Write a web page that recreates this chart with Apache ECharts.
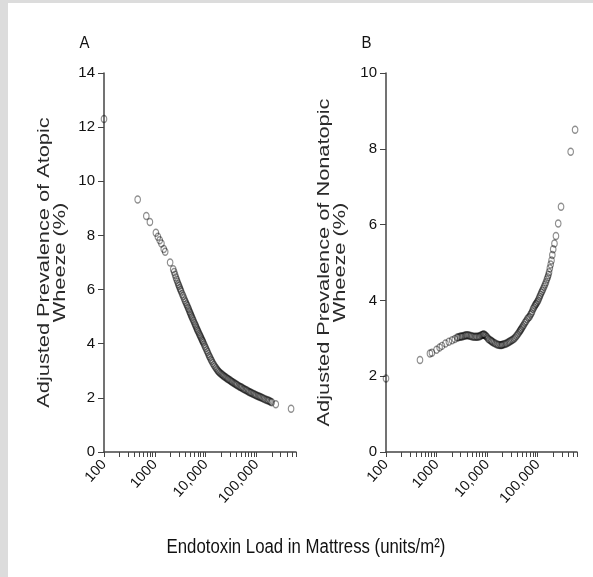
<!DOCTYPE html>
<html>
<head>
<meta charset="utf-8">
<script src="https://cdn.jsdelivr.net/npm/echarts@6/dist/echarts.min.js"></script>
<style>
  html, body { margin: 0; padding: 0; background: #fff; }
  #chart { width: 593px; height: 577px; }
</style>
</head>
<body>
<div id="chart"></div>
<script>
// endotoxin load (units/m2) vs adjusted prevalence (%), one circle per subject
var atopicX = [100, 460, 680, 800, 1050, 1150, 1250, 1350, 1500, 1600, 2000,
  2300, 2400, 2500, 2600, 2700, 2800, 2900, 3000, 3100, 3200, 3300, 3450, 3600, 3750, 3900, 4050, 4200, 4350, 4500, 4650, 4800, 4950, 5100, 5250, 5400, 5600, 5800, 6000, 6200, 6400, 6600, 6800, 7000, 7250, 7500, 7750, 8000, 8250, 8500, 8750, 9000, 9350, 9700,
  10100, 10500, 10900, 11300, 11750, 12200, 12700, 13200, 13800, 14500, 15200, 16000, 16700, 17500, 18200, 19000, 20000, 21000, 22000, 23000, 24200, 25500, 26700, 28000, 29500, 31000, 32500, 34000, 36000, 38000, 40000, 42000, 44500, 47000, 49500, 52000, 55000, 58000, 61500, 65000, 68500, 72000, 76000, 80000, 85000, 90000, 95000,
  100000, 106000, 112000, 118000, 125000, 132000, 140000, 150000, 160000, 170000, 180000, 190000, 200000, 240000, 480000];
var atopicY = [12.3, 9.33, 8.72, 8.5, 8.1, 7.95, 7.82, 7.7, 7.5, 7.4, 7.0,
  6.75, 6.65, 6.55, 6.45, 6.36, 6.28, 6.2, 6.13, 6.06, 5.99, 5.93, 5.84, 5.76, 5.68, 5.6, 5.53, 5.46, 5.4, 5.33, 5.27, 5.2, 5.14, 5.08, 5.02, 4.97, 4.9, 4.84, 4.77, 4.71, 4.65, 4.59, 4.53, 4.48, 4.42, 4.36, 4.3, 4.25, 4.19, 4.14, 4.09, 4.04, 3.97, 3.9,
  3.83, 3.76, 3.69, 3.62, 3.55, 3.49, 3.42, 3.36, 3.29, 3.22, 3.16, 3.1, 3.05, 3.0, 2.96, 2.93, 2.89, 2.86, 2.83, 2.8, 2.77, 2.74, 2.71, 2.69, 2.66, 2.63, 2.6, 2.58, 2.55, 2.52, 2.49, 2.47, 2.44, 2.41, 2.39, 2.37, 2.34, 2.32, 2.29, 2.27, 2.24, 2.22, 2.2, 2.18, 2.15, 2.13, 2.11,
  2.09, 2.07, 2.05, 2.03, 2.01, 1.99, 1.97, 1.94, 1.92, 1.9, 1.88, 1.86, 1.84, 1.76, 1.6];

var nonatopicX = [100, 470, 740, 810, 1000, 1150, 1280, 1500, 1750, 2030, 2300,
  2560, 2700, 2900, 3050, 3200, 3400, 3600, 3800, 4000, 4250, 4500, 4800, 5100, 5450, 5800, 6150, 6500, 6900, 7300, 7700, 8100, 8400, 8700, 9100, 9500,
  10000, 10500, 11100, 11800, 12300, 12800, 13600, 14500, 15500, 16500, 17500, 18500, 19300, 20000, 21200, 22500, 24000, 25500, 27000, 28500, 30200, 32000, 34000, 36000, 38000, 40000, 42000, 44000, 45500, 47000, 49000, 51000, 53500, 56000, 59000, 62000, 65500, 69000, 72000, 75000, 78000, 81000, 84500, 88000, 91000, 94000, 98000,
  102000, 106000, 110000, 114000, 118000, 123000, 128000, 134000, 140000, 146000, 152000, 158000, 163000, 168000, 174000, 181000, 188000, 195000, 203000, 215000, 230000, 255000, 290000, 450000, 550000];
var nonatopicY = [1.94, 2.43, 2.6, 2.62, 2.7, 2.76, 2.8, 2.86, 2.91, 2.95, 2.98,
  3.02, 3.03, 3.04, 3.05, 3.05, 3.06, 3.07, 3.08, 3.08, 3.08, 3.07, 3.06, 3.05, 3.04, 3.04, 3.04, 3.04, 3.05, 3.06, 3.08, 3.09, 3.1, 3.1, 3.08, 3.06,
  3.03, 2.99, 2.96, 2.94, 2.92, 2.9, 2.88, 2.86, 2.84, 2.83, 2.82, 2.82, 2.82, 2.83, 2.84, 2.85, 2.86, 2.88, 2.9, 2.92, 2.94, 2.96, 2.99, 3.02, 3.06, 3.1, 3.14, 3.18, 3.21, 3.24, 3.28, 3.32, 3.36, 3.41, 3.45, 3.5, 3.54, 3.57, 3.62, 3.66, 3.71, 3.77, 3.81, 3.86, 3.89, 3.92, 3.96,
  4.0, 4.05, 4.1, 4.15, 4.2, 4.25, 4.3, 4.36, 4.42, 4.48, 4.55, 4.61, 4.67, 4.74, 4.85, 4.95, 5.05, 5.2, 5.35, 5.5, 5.7, 6.03, 6.47, 7.92, 8.5];

var xLabelValues = [100, 1000, 10000, 100000];
var xLabelText = ['100', '1000', '10,000', '100,000'];
var xTickValues = [100, 200, 300, 400, 500, 600, 700, 800, 900,
  1000, 2000, 3000, 4000, 5000, 6000, 7000, 8000, 9000,
  10000, 20000, 30000, 40000, 50000, 60000, 70000, 80000, 90000,
  100000, 200000, 300000, 400000, 500000, 600000];

var axisColor = '#444';
var textColor = '#111';
var font = 'Liberation Sans';
// the original figure is stretched vertically, so free text gets a scale too
var stretch = 1.28;

function pairs(xs, ys) {
  return xs.map(function (x, i) { return [x, ys[i]]; });
}

function makeX(idx) {
  return {
    type: 'log', logBase: 10, gridIndex: idx, min: 100, max: 600000,
    axisLine: { show: true, lineStyle: { color: axisColor, width: 1.5 } },
    axisTick: { show: true, customValues: xTickValues, length: 5, lineStyle: { color: axisColor, width: 1 } },
    axisLabel: {
      customValues: xLabelValues, rotate: 48, margin: 10,
      fontFamily: font, fontSize: 14.5, color: textColor,
      formatter: function (v) { return xLabelText[Math.round(Math.log10(v)) - 2]; }
    },
    splitLine: { show: false }
  };
}

function makeY(idx, max) {
  return {
    type: 'value', gridIndex: idx, min: 0, max: max, interval: 2,
    axisLine: { show: true, lineStyle: { color: axisColor, width: 1.5 } },
    axisTick: { show: true, length: 6, lineStyle: { color: axisColor, width: 1 } },
    axisLabel: { fontFamily: font, fontSize: 15, color: textColor, margin: 9 },
    splitLine: { show: false }
  };
}

function makeSeries(idx, data) {
  return {
    type: 'scatter', xAxisIndex: idx, yAxisIndex: idx,
    data: data, symbol: 'circle', symbolSize: [5.5, 7],
    itemStyle: { color: 'rgba(0,0,0,0)', borderColor: 'rgba(0,0,0,0.55)', borderWidth: 1.3 },
    emphasis: { disabled: true }
  };
}

function sideText(text, x) {
  return {
    type: 'text', x: x, y: 262.5, rotation: Math.PI / 2, scaleX: stretch,
    style: { text: text, align: 'center', verticalAlign: 'middle', fontFamily: font, fontSize: 17, lineHeight: 16, fill: '#2a2a2a' }
  };
}

var myChart = echarts.init(document.getElementById('chart'));
var option = {
  backgroundColor: '#fff',
  animation: false,
  graphic: [
    { type: 'rect', left: 0, top: 0, shape: { width: 8, height: 577 }, style: { fill: '#dcdcdc' } },
    { type: 'rect', left: 0, top: 0, shape: { width: 593, height: 3 }, style: { fill: '#dcdcdc' } },
    { type: 'text', x: 84.5, y: 43, scaleY: 1.1, style: { text: 'A', align: 'center', verticalAlign: 'middle', fontFamily: font, fontSize: 15, fill: textColor } },
    { type: 'text', x: 366.5, y: 43, scaleY: 1.1, style: { text: 'B', align: 'center', verticalAlign: 'middle', fontFamily: font, fontSize: 15, fill: textColor } },
    { type: 'text', x: 306, y: 547, scaleY: 1.2, style: { text: 'Endotoxin Load in Mattress (units/m²)', align: 'center', verticalAlign: 'middle', fontFamily: font, fontSize: 16.8, fill: textColor } },
    sideText('Adjusted Prevalence of Atopic\nWheeze (%)', 52.5),
    sideText('Adjusted Prevalence of Nonatopic\nWheeze (%)', 332.5)
  ],
  grid: [
    { left: 104, top: 73, width: 192, height: 379 },
    { left: 386, top: 73, width: 191, height: 379 }
  ],
  xAxis: [makeX(0), makeX(1)],
  yAxis: [makeY(0, 14), makeY(1, 10)],
  series: [
    makeSeries(0, pairs(atopicX, atopicY)),
    makeSeries(1, pairs(nonatopicX, nonatopicY))
  ]
};
option && myChart.setOption(option);
</script>
</body>
</html>
